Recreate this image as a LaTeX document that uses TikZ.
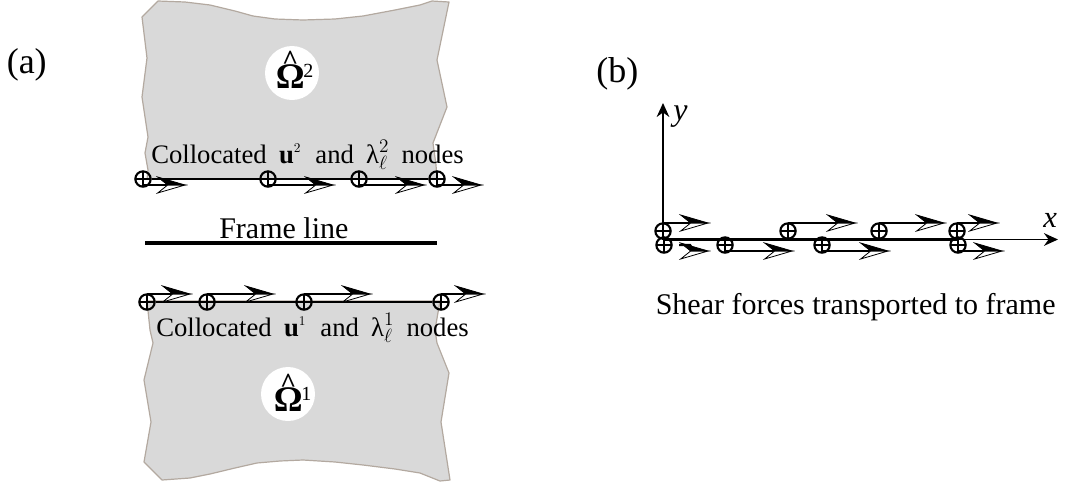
\documentclass[tikz,border=0pt]{standalone}
\usepackage{fontspec}
\setmainfont{Liberation Serif}
\usetikzlibrary{arrows.meta}
\pgfdeclarearrow{
  name=HalfOpen,
  cache=false,
  bending mode=none,
  setup code={%
    \pgfarrowssettipend{0pt}%
    \pgfarrowssetlineend{-2pt}%
    \pgfarrowssetvisualbackend{-13pt}%
    \pgfarrowssetbackend{-20.5pt}%
    \pgfarrowshullpoint{0pt}{0pt}%
  },
  drawing code={%
    \pgfsetdash{}{0pt}%
    \pgfsetmiterjoin
    \pgfsetlinewidth{0.6pt}%
    % lower, open half
    \pgfpathmoveto{\pgfqpoint{0pt}{0pt}}%
    \pgfpathlineto{\pgfqpoint{-20.5pt}{-6pt}}%
    \pgfpathlineto{\pgfqpoint{-13pt}{0pt}}%
    \pgfpathclose
    \pgfsetfillcolor{white}%
    \pgfusepathqfillstroke
    % upper, solid half
    \pgfpathmoveto{\pgfqpoint{0pt}{0pt}}%
    \pgfpathlineto{\pgfqpoint{-20.5pt}{6pt}}%
    \pgfpathlineto{\pgfqpoint{-13pt}{0pt}}%
    \pgfpathclose
    \pgfsetfillcolor{black}%
    \pgfusepathqfillstroke
  }
}
\tikzset{
  x=0.75pt,y=-0.75pt,
  body/.style={fill=bodygrey,draw=bodyedge,line width=0.9pt,line join=round},
  fnode/.style={circle,draw=black,line width=1.6pt,minimum size=11.5pt,inner sep=0pt,
    path picture={\draw[line width=1.2pt]
      (path picture bounding box.north)--(path picture bounding box.south)
      (path picture bounding box.west)--(path picture bounding box.east);}},
  flow/.style={line width=1.7pt,-{HalfOpen}},
  surf/.style={line width=2.1pt},
  frameline/.style={line width=3pt},
  axisline/.style={line width=1.1pt,-{Stealth[length=10.5pt,width=9.5pt]}},
  disc/.style={circle,fill=white,minimum size=40.5pt,inner sep=0pt},
  lab/.style={anchor=base west,inner sep=0pt,font=\fontsize{20}{24}\selectfont},
  biglab/.style={anchor=base west,inner sep=0pt,font=\fontsize{22.5}{26}\selectfont},
  panel/.style={anchor=base west,inner sep=0pt,font=\fontsize{27}{32}\selectfont},
  omega/.style={anchor=base west,inner sep=0pt,font=\fontsize{27}{32}\selectfont},
}
\definecolor{bodygrey}{HTML}{D9D9D9}
\definecolor{bodyedge}{HTML}{B3A9A0}
\newcommand{\gap}{\hspace{9.2pt}}
% hatted Omega with a superscript, set as one text
\newcommand{\hatomega}[1]{%
  \setbox0=\hbox{\bfseries Ω}%
  \rlap{\makebox[\wd0][c]{\raisebox{14.25pt}[0pt][0pt]{\fontsize{21}{25}\selectfont\bfseries\textasciicircum}}}%
  \box0\hspace{-1pt}%
  \raisebox{8.25pt}{\fontsize{15}{18}\selectfont #1}}
\begin{document}
\begin{tikzpicture}
\useasboundingbox (0,0) rectangle (1065,486);

% bodies
\draw[body] (147,179) -- (148,170) -- (145,153) -- (148,137) -- (142,97) -- (147,58) -- (142,17)
  -- (158,1) -- (185,2) -- (210,5) -- (235,11) -- (253,16) -- (275,19) -- (303,20) -- (335,19) -- (363,16)
  -- (395,10) -- (420,5) -- (432,1) -- (449,2) -- (437,60) -- (447,107) -- (433,143) -- (436,165) -- (437,179) -- cycle;
\draw[body] (147,301) -- (150,330) -- (153,343) -- (144,380) -- (151,422) -- (144,462) -- (162,480)
  -- (190,478) -- (210,474) -- (235,468) -- (257,463) -- (280,461) -- (303,460) -- (335,462) -- (363,465)
  -- (395,469) -- (420,473) -- (440,481) -- (450,480) -- (441,422) -- (449,373) -- (437,343) -- (435,330) -- (440,301) -- cycle;

% domain labels
\node[disc] (da) at (292,73) {};
\node[omega] (oa) at (275.5,88) {\hatomega{2}};
\node[disc] (db) at (288,394) {};
\node[omega] (ob) at (273.5,411) {\hatomega{1}};

% (a) upper surface
\node[fnode] (u1) at (143,179) {};
\node[fnode] (u2) at (268,179) {};
\node[fnode] (u3) at (359,179) {};
\node[fnode] (u4) at (437,179) {};
\draw[surf] (u1) -- (u4);
\foreach \n/\x in {1/185,2/333,3/424,4/481}{
  \coordinate (ue\n) at (\x,185);
  \draw[flow] (u\n |- ue\n) -- (ue\n);
}
\node[lab] (ut) at (151,163) {Collocated\gap\textbf{u}$^{\scriptscriptstyle 2}$\hspace{1.5pt}\gap and\gap λ$_{\ell}^{2}$\gap nodes};

% frame line
\coordinate (fa) at (145,243);
\coordinate (fb) at (437,243);
\draw[frameline] (fa) -- (fb);
\node[biglab] (ft) at (219,238) {Frame line};

% (a) lower surface
\node[fnode] (l1) at (147,302) {};
\node[fnode] (l2) at (207,302) {};
\node[fnode] (l3) at (304,302) {};
\node[fnode] (l4) at (441,302) {};
\draw[surf] (l1) -- (l4);
\foreach \n/\x in {1/190,2/273,3/370,4/483}{
  \coordinate (le\n) at (\x,294);
  \draw[flow] (l\n |- le\n) -- (le\n);
}
\node[lab] (lt) at (156,336) {Collocated\gap\textbf{u}$^{\scriptscriptstyle 1}$\hspace{1.5pt}\gap and\gap λ$_{\ell}^{1}$\gap nodes};

\node[panel] (pa) at (6.5,73) {(a)};
\node[panel] (pb) at (596,82) {(b)};

% (b) axes
\coordinate (o) at (663,239.5);
\coordinate (ya) at (663,103);
\coordinate (xa) at (1058,239.5);
\draw[axisline] (o) -- (ya);
\draw[axisline] (o) -- (xa);
\node[biglab,font=\fontsize{24}{28}\selectfont\itshape] (yt) at (673,120) {y};
\node[biglab,font=\fontsize{23}{28}\selectfont\itshape] (xt) at (1043,227) {x};

% (b) upper row
\node[fnode] (a1) at (663,231) {};
\node[fnode] (a2) at (788,231) {};
\node[fnode] (a3) at (879,231) {};
\node[fnode] (a4) at (957,231) {};
\foreach \n/\x in {1/708,2/855,3/944,4/997}{
  \coordinate (ae\n) at (\x,223);
  \draw[flow] (a\n |- ae\n) -- (ae\n);
}
% (b) lower row
\node[fnode] (b1) at (664,245) {};
\node[fnode] (b2) at (725,245) {};
\node[fnode] (b3) at (822,245) {};
\node[fnode] (b4) at (958,245) {};
\draw[line width=2.6pt] (a1 |- o) -- (a4 |- o);
\foreach \n/\x in {2/792,3/888,4/1002}{
  \coordinate (be\n) at (\x,251);
  \draw[flow] (b\n |- be\n) -- (be\n);
}
\coordinate (bs) at (679,245);
\coordinate (be1) at (708,251);
\draw[flow] (bs) -- (690,245) -- (694,251) -- (be1);

\node[biglab] (st) at (655.5,314) {Shear forces transported to frame};
\end{tikzpicture}
\end{document}
